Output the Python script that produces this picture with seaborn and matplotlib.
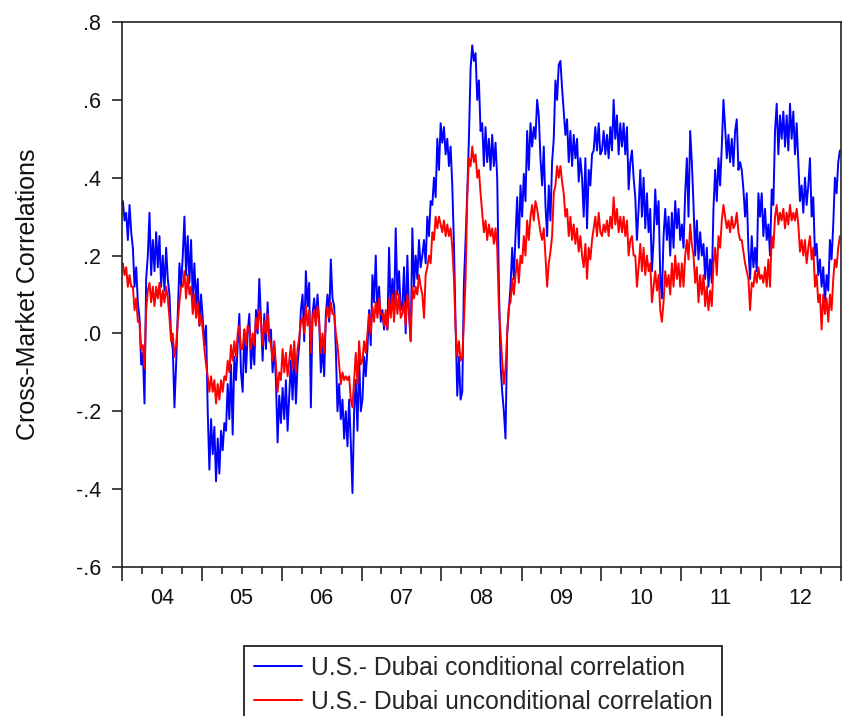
import numpy as np
import pandas as pd
import matplotlib
matplotlib.use("Agg")
import matplotlib.pyplot as plt
import matplotlib.dates as mdates
import matplotlib.transforms as mtransforms
from matplotlib.lines import Line2D
import seaborn as sns

# ---------------------------------------------------------------------------
# Data: U.S.-Dubai cross-market correlations, 2004-2012
# (48 observations per year, one row per quarter)
# ---------------------------------------------------------------------------
year_labels = ["04", "05", "06", "07", "08", "09", "10", "11", "12"]
series_names = ["U.S.- Dubai conditional correlation",
                "U.S.- Dubai unconditional correlation"]

cond_04 = [.34, .29, .31, .24, .33, .26, .22, .12, .17, .08, .04, -.08,
           -.05, -.18, .14, .20, .31, .15, .24, .16, .26, .17, .25, .12,
           .20, .11, .22, .14, .10, -.01, -.04, -.19, -.08, .05, .18, .12,
           .20, .30, .15, .25, .13, .24, .09, .18, .07, .14, .02, .10]
cond_05 = [.04, -.03, .02, -.20, -.35, -.22, -.31, -.24, -.38, -.27, -.36, -.25,
           -.30, -.23, -.25, -.13, -.22, -.08, -.26, -.06, -.12, -.03, .05, -.10,
           -.15, .01, -.10, .00, .05, -.09, -.02, -.08, .06, .00, .14, .04,
           -.07, .05, -.04, .08, -.02, .01, -.10, -.03, -.12, -.28, -.16, -.23]
cond_06 = [-.14, -.22, -.12, -.25, -.16, -.07, -.17, -.05, -.18, -.08, -.03, .06,
           .10, -.02, .16, .07, .13, -.19, .05, .09, .03, .10, .03, -.10,
           -.03, -.11, .05, .10, .03, .19, .09, .07, -.04, -.20, -.13, -.22,
           -.17, -.27, -.20, -.29, -.17, -.28, -.41, -.20, -.12, -.25, -.06, -.20]
cond_07 = [-.17, -.06, -.11, -.04, .06, -.03, .15, .08, .20, .05, .12, .03,
           .06, .01, .05, .01, .22, .06, .14, .05, .27, .10, .16, .06,
           .07, .17, .00, .20, .05, -.02, .27, .12, .20, .14, .24, .17,
           .20, .24, .18, .30, .25, .34, .33, .40, .35, .50, .42, .54]
cond_08 = [.49, .53, .46, .50, .43, .48, .38, .23, .02, -.16, -.06, -.17,
           -.15, .13, .24, .36, .50, .68, .74, .70, .72, .60, .65, .52,
           .54, .43, .53, .44, .50, .42, .51, .43, .49, .40, .13, -.08,
           -.15, -.20, -.27, .00, .06, .12, .22, .14, .25, .35, .22, .38]
cond_09 = [.30, .41, .34, .52, .42, .54, .48, .53, .50, .60, .56, .45,
           .38, .48, .33, .25, .38, .29, .44, .50, .65, .60, .69, .70,
           .63, .57, .51, .55, .44, .52, .43, .51, .45, .50, .39, .45,
           .40, .30, .45, .27, .42, .38, .46, .47, .53, .47, .54, .46]
cond_10 = [.47, .52, .46, .51, .45, .53, .47, .60, .50, .56, .46, .54,
           .48, .54, .46, .53, .37, .44, .47, .40, .35, .24, .32, .42,
           .30, .40, .27, .36, .26, .32, .16, .24, .37, .28, .34, .15,
           .09, .25, .32, .24, .30, .20, .31, .22, .34, .27, .32, .24]
cond_11 = [.28, .22, .36, .45, .30, .52, .44, .33, .20, .29, .19, .26,
           .20, .23, .14, .22, .12, .19, .13, .32, .42, .34, .45, .38,
           .48, .60, .53, .45, .51, .44, .50, .43, .52, .55, .42, .44,
           .42, .37, .30, .36, .22, .14, .25, .17, .22, .16, .36, .30]
cond_12 = [.36, .25, .32, .24, .28, .20, .37, .33, .52, .59, .46, .56,
           .50, .57, .48, .56, .47, .59, .50, .57, .46, .54, .44, .34,
           .38, .31, .40, .33, .38, .45, .30, .35, .20, .23, .15, .19,
           .12, .17, .08, .15, .11, .24, .19, .28, .40, .36, .44, .47]

uncond_04 = [.18, .15, .17, .12, .15, .12, .12, .06, .09, .03, .03, -.04,
             -.03, -.09, .06, .11, .13, .08, .12, .07, .12, .09, .13, .07,
             .11, .08, .12, .09, .04, -.02, .00, -.06, -.03, .03, .08, .12,
             .12, .16, .09, .15, .10, .12, .05, .10, .04, .08, .02, .05]
uncond_05 = [.01, -.04, -.08, -.11, -.15, -.11, -.15, -.12, -.18, -.13, -.17, -.12,
             -.15, -.11, -.12, -.07, -.10, -.03, -.07, -.02, -.06, .00, .02, -.04,
             -.04, .01, -.03, .02, .01, -.04, .00, -.03, .04, .01, .06, .03,
             -.03, .03, .00, .05, -.01, -.03, -.07, -.02, -.08, -.15, -.10, -.12]
uncond_06 = [-.04, -.10, -.05, -.11, -.07, -.03, -.09, -.02, -.10, -.04, -.01, .03,
             .04, .00, .07, .02, .06, -.05, .04, .06, .02, .07, .03, -.05,
             .00, -.05, .03, .07, .04, .08, .05, .05, .00, -.03, -.08, -.13,
             -.10, -.12, -.11, -.12, -.11, -.17, -.19, -.12, -.05, -.13, -.02, -.08]
uncond_07 = [-.07, -.02, -.05, .00, .05, .00, .07, .03, .08, .04, .09, .05,
             .05, .02, .06, .01, .09, .04, .10, .03, .11, .05, .10, .04,
             .05, .08, .02, .10, .06, -.02, .12, .09, .12, .10, .15, .12,
             .10, .04, .15, .17, .20, .18, .26, .24, .30, .27, .30, .28]
uncond_08 = [.26, .29, .25, .28, .25, .27, .22, .14, .01, -.06, -.02, -.07,
             -.06, .03, .14, .35, .45, .43, .48, .44, .46, .40, .42, .36,
             .31, .26, .29, .24, .28, .25, .27, .23, .27, .22, .07, .00,
             -.07, -.13, -.09, .00, .07, .08, .14, .10, .15, .19, .13, .20]
uncond_09 = [.18, .25, .20, .29, .24, .30, .33, .29, .34, .32, .29, .26,
             .24, .27, .20, .12, .18, .21, .25, .36, .38, .43, .40, .43,
             .39, .36, .30, .32, .25, .30, .24, .28, .23, .27, .21, .25,
             .20, .17, .23, .14, .22, .19, .24, .27, .30, .25, .31, .26]
uncond_10 = [.25, .28, .26, .29, .25, .30, .27, .35, .28, .32, .26, .30,
             .26, .30, .25, .29, .20, .24, .25, .20, .20, .12, .17, .23,
             .16, .22, .15, .20, .16, .18, .08, .12, .16, .11, .15, .06,
             .03, .08, .16, .12, .15, .10, .18, .12, .20, .14, .18, .12]
uncond_11 = [.18, .12, .20, .24, .19, .28, .23, .20, .13, .17, .08, .15,
             .10, .15, .07, .12, .06, .11, .07, .18, .22, .15, .25, .22,
             .29, .33, .30, .27, .29, .26, .30, .27, .28, .31, .26, .24,
             .24, .21, .18, .16, .14, .06, .13, .12, .16, .13, .17, .14]
uncond_12 = [.15, .13, .17, .12, .19, .12, .25, .22, .30, .33, .28, .31,
             .29, .32, .27, .31, .28, .33, .29, .31, .29, .32, .28, .21,
             .24, .20, .24, .18, .22, .25, .19, .22, .12, .15, .08, .10,
             .01, .10, .05, .09, .03, .10, .06, .14, .19, .17, .22, .25]

# ---------------------------------------------------------------------------
cond = np.concatenate([cond_04, cond_05, cond_06, cond_07, cond_08,
                       cond_09, cond_10, cond_11, cond_12])
uncond = np.concatenate([uncond_04, uncond_05, uncond_06, uncond_07, uncond_08,
                         uncond_09, uncond_10, uncond_11, uncond_12])
n = len(cond)
dates = pd.date_range("2004-01-05", "2012-12-27", periods=n)

df = pd.DataFrame({
    "date": np.concatenate([dates, dates]),
    "value": np.concatenate([cond, uncond]),
    "series": [series_names[0]] * n + [series_names[1]] * n,
})

sns.set_style("ticks")
plt.rcParams["font.family"] = ["Liberation Sans", "DejaVu Sans"]

W, H = 843, 716
fig = plt.figure(figsize=(W / 100, H / 100), dpi=100)
ax = fig.add_axes([122 / W, 1 - 567 / H, 719 / W, 545 / H])

colors = ["#0000ff", "#ff0000"]
sns.lineplot(data=df, x="date", y="value", hue="series", hue_order=series_names,
             palette=colors, estimator=None, linewidth=1.4, legend=False, ax=ax)

# axes limits and ticks
ax.set_xlim(mdates.date2num(pd.Timestamp("2004-01-01")),
            mdates.date2num(pd.Timestamp("2013-01-01")))
ax.set_ylim(-0.6, 0.8)

yt = np.round(np.arange(-0.6, 0.81, 0.2), 1)
ax.set_yticks(yt)
ax.set_yticklabels([f"{v:.1f}".replace("0.", ".") for v in yt])

year_starts = [mdates.date2num(pd.Timestamp(f"{y}-01-01")) for y in range(2004, 2014)]
quarters = [mdates.date2num(pd.Timestamp(f"{y}-{m:02d}-01"))
            for y in range(2004, 2013) for m in (4, 7, 10)]
ax.set_xticks(year_starts)
ax.set_xticklabels([])
ax.set_xticks(quarters, minor=True)

ax.tick_params(axis="y", length=7, width=1.1, pad=8, labelsize=15.5, colors="#111111")
ax.tick_params(axis="x", which="major", length=10, width=1.1, colors="#111111")
ax.tick_params(axis="x", which="minor", length=5, width=1.1, colors="#111111")

# year labels centred between the year ticks
lab_tr = mtransforms.offset_copy(ax.get_xaxis_transform(), fig=fig, x=0, y=-37, units="dots")
for i, yl in enumerate(year_labels):
    xm = mdates.date2num(pd.Timestamp(f"{2004 + i}-07-01"))
    ax.text(xm, 0, yl, transform=lab_tr, ha="center", va="baseline",
            fontsize=15.5, color="#111111")

ax.set_xlabel("")
ax.set_ylabel("Cross-Market Correlations", fontsize=18, color="#111111")
ax.yaxis.set_label_coords(-0.114, 0.5)

for s in ax.spines.values():
    s.set_visible(True)
    s.set_linewidth(1.2)
    s.set_color("#222222")

# legend below the plot
handles = [Line2D([], [], color=c, linewidth=1.4) for c in colors]
leg = fig.legend(handles, series_names, loc="upper left",
                 bbox_to_anchor=(244 / W, 1 - 646 / H), fontsize=17.8,
                 frameon=True, fancybox=False, framealpha=1, edgecolor="#222222",
                 handlelength=1.95, handletextpad=0.35, borderpad=0.4,
                 labelspacing=0.4, borderaxespad=0)
leg.get_frame().set_linewidth(1.3)

fig.savefig("out.png", dpi=100)
